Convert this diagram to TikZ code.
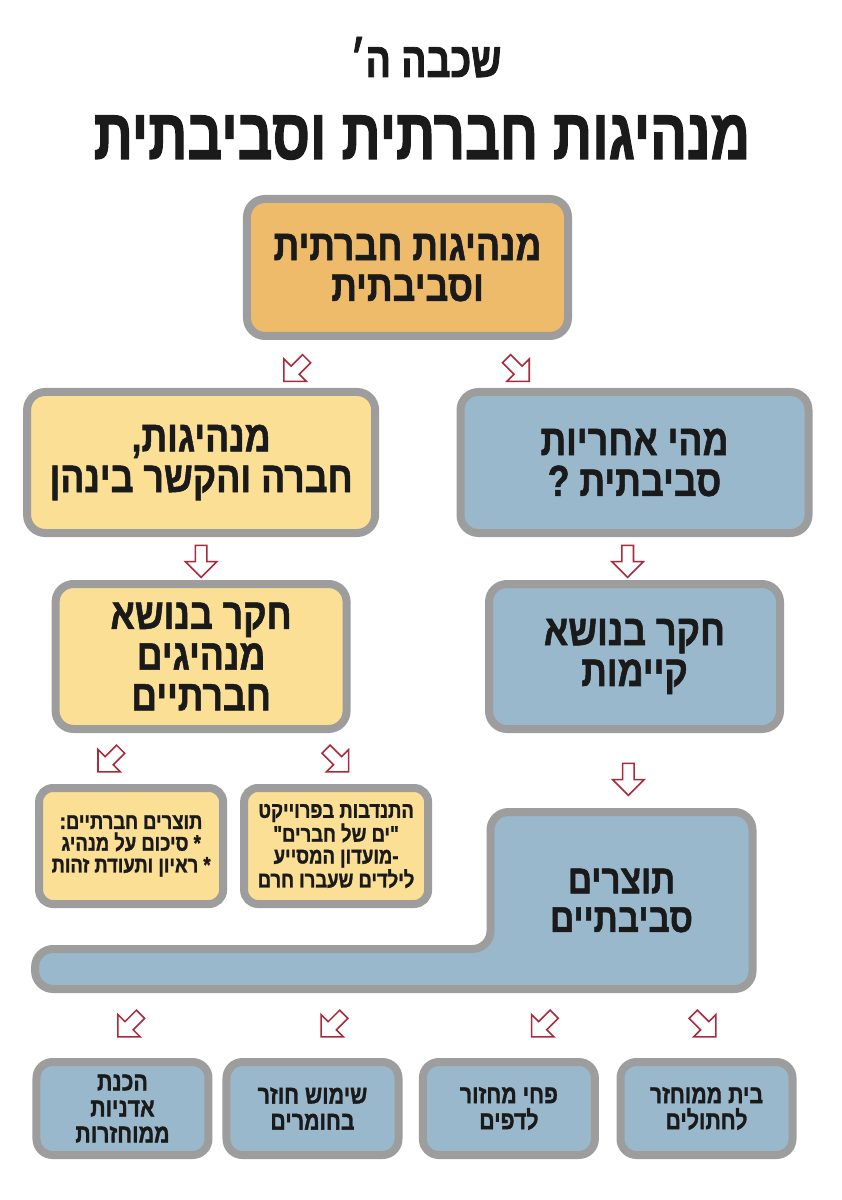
\documentclass[tikz,border=0pt]{standalone}
\usepackage{fontspec}
\usepackage{tikz}
\usetikzlibrary{shapes.arrows, positioning, calc, backgrounds}
\TeXXeTstate=1
\newfontfamily\hebfont[Script=Hebrew, FakeStretch=0.82, BoldFeatures={FakeBold=1.2}]{Liberation Sans}
\newfontfamily\hebtitle[Script=Hebrew, FakeStretch=0.76, BoldFeatures={FakeBold=1.6}]{Liberation Sans}
\newcommand{\rtl}[1]{\beginR #1\endR}
\definecolor{boxorange}{HTML}{EDBB6A}
\definecolor{boxyellow}{HTML}{FADF94}
\definecolor{boxblue}{HTML}{9AB8CC}
\definecolor{boxgray}{HTML}{9D9D9D}
\definecolor{arrowred}{HTML}{A82A3B}
\definecolor{inkblack}{HTML}{1A1A1A}
\tikzset{
    box/.style={rectangle, rounded corners=0.45cm, draw=boxgray, line width=0.2cm, text=inkblack, align=center, font=\hebfont\bfseries\fontsize{31}{29}\selectfont},
    mainbox/.style={box, fill=boxorange, minimum width=8.025cm, minimum height=3.425cm},
    socbox/.style={box, fill=boxyellow},
    envbox/.style={box, fill=boxblue},
    level1/.style={minimum width=8.7cm, minimum height=3.525cm},
    level2/.style={minimum width=7.275cm, minimum height=3.625cm},
    smallbox/.style={socbox, rounded corners=0.35cm, minimum width=4.6cm, minimum height=2.9cm, font=\hebfont\bfseries\fontsize{16}{15.5}\selectfont},
    recbox/.style={envbox, rounded corners=0.4cm, minimum width=4.3cm, minimum height=2.325cm, font=\hebfont\bfseries\fontsize{18.5}{18.5}\selectfont},
    prodtext/.style={minimum width=6.55cm, minimum height=4.425cm, inner sep=0pt, outer sep=0pt, text=inkblack, align=center, font=\hebfont\bfseries\fontsize{29}{27.5}\selectfont},
    lbox/.style={draw=boxgray, line width=0.2cm, fill=boxblue, rounded corners=0.45cm},
    harrow/.style={single arrow, draw=arrowred, fill=white, line width=1.1pt, minimum height=0.8cm, minimum width=0.75cm, single arrow head extend=0.25cm, text height=0.25cm, text depth=0pt, inner sep=0pt},
    bigtitle/.style={text=inkblack, font=\hebtitle\bfseries\fontsize{51}{56}\selectfont},
    subtitle/.style={text=inkblack, font=\hebtitle\bfseries\fontsize{35}{40}\selectfont},
}

\begin{document}
\begin{tikzpicture}
    \useasboundingbox (-10.1875,-23.3125) rectangle (10.8625,6.6875);

    % Main topic and title
    \node[mainbox] (main) {\rtl{מנהיגות חברתית}\\\rtl{וסביבתית}};
    \node[bigtitle, above=0.9cm of main.north, anchor=base, xshift=0.36cm] (title) {\rtl{מנהיגות חברתית וסביבתית}};
    \node[subtitle, above=2.05cm of title.base, anchor=base, xshift=0.1cm] (grade) {\rtl{שכבה ה׳}};

    % Two branches
    \node[socbox, level1, below=1.2cm of main, xshift=-5.16cm] (lead1) {\rtl{מנהיגות,}\\\rtl{חברה והקשר בינהן}};
    \node[envbox, level1, below=1.2cm of main, xshift=5.675cm] (env1) {\rtl{מהי אחריות}\\\rtl{סביבתית ?}};
    \node[socbox, level2, below=1.075cm of lead1] (lead2) {\rtl{חקר בנושא}\\\rtl{מנהיגים}\\\rtl{חברתיים}};
    \node[envbox, level2, below=1.075cm of env1] (env2) {\rtl{חקר בנושא}\\\rtl{קיימות}};

    % Social products
    \node[smallbox, below=1.275cm of lead2, xshift=-1.75cm] (soc1) {\rtl{תוצרים חברתיים:}\\\rtl{* סיכום על מנהיג}\\\rtl{* ראיון ותעודת זהות}};
    \node[smallbox, right=0.325cm of soc1] (soc2) {\rtl{התנדבות בפרוייקט}\\\rtl{"ים של חברים"}\\\rtl{-מועדון המסייע}\\\rtl{לילדים שעברו חרם}};

    % Environmental products
    \node[prodtext, below=1.975cm of env2, xshift=-0.325cm] (prod) {\rtl{תוצרים}\\\rtl{סביבתיים}};
    \coordinate (barsw) at (prod.south -| soc1.west);
    \coordinate (barnw) at ([yshift=1cm]barsw);

    % Recycling
    \node[recbox, below=1.725cm of prod, xshift=2.125cm] (rec1) {\rtl{בית ממוחזר}\\\rtl{לחתולים}};
    \node[recbox, left=0.44cm of rec1] (rec2) {\rtl{פחי מחזור}\\\rtl{לדפים}};
    \node[recbox, left=0.41cm of rec2] (rec3) {\rtl{שימוש חוזר}\\\rtl{בחומרים}};
    \node[recbox, left=0.25cm of rec3] (rec4) {\rtl{הכנת}\\\rtl{אדניות}\\\rtl{ממוחזרות}};

    \begin{scope}[on background layer]
        \fill[white] (-10.1875,-23.3125) rectangle (10.8625,6.6875);
        \draw[lbox] (prod.north west) -- (prod.north east) -- (prod.south east) -- (barsw) -- (barnw) -- (barnw -| prod.west) -- cycle;
    \end{scope}

    % Arrows
    \path (main) -- node[harrow, xshift=-0.2cm, yshift=-0.1cm, rotate=-135] {} (lead1);
    \path (main) -- node[harrow, xshift=-0.1cm, yshift=-0.1cm, rotate=-45] {} (env1);
    \path (lead1) -- node[harrow, rotate=-90] {} (lead2);
    \path (env1) -- node[harrow, xshift=-0.17cm, rotate=-90] {} (env2);
    \path (lead2.south west) -- node[harrow, xshift=0.5cm, rotate=-135] {} (soc1.north);
    \path (lead2.south east) -- node[harrow, xshift=-0.2cm, rotate=-45] {} (soc2.north);
    \path (env2) -- node[harrow, yshift=-0.1cm, rotate=-90] {} (prod);
    \path (prod.south -| rec4) -- node[harrow, xshift=0.22cm, rotate=-135] {} (rec4);
    \path (prod.south -| rec3) -- node[harrow, xshift=0.55cm, rotate=-135] {} (rec3);
    \path (prod.south -| rec2) -- node[harrow, xshift=0.9cm, rotate=-135] {} (rec2);
    \path (prod.south -| rec1) -- node[harrow, xshift=-0.1cm, rotate=-45] {} (rec1);
\end{tikzpicture}
\end{document}
